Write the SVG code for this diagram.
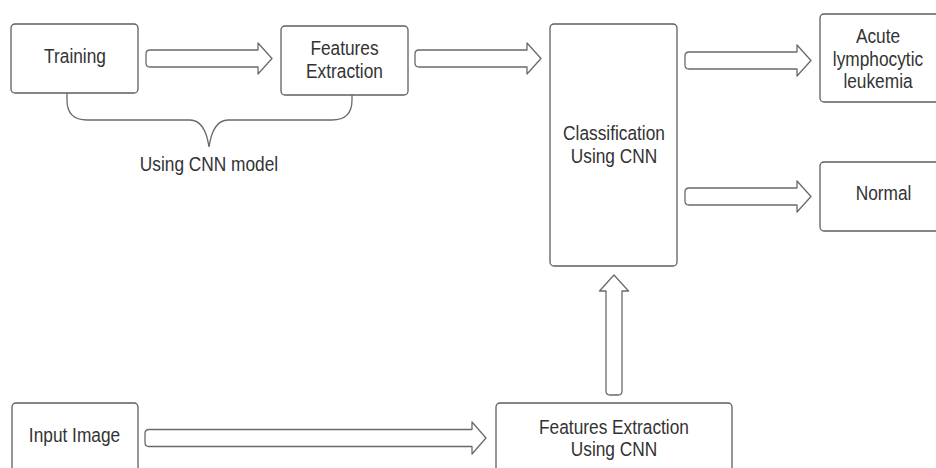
<svg xmlns="http://www.w3.org/2000/svg" width="936" height="468" viewBox="0 0 936 468">
  <style>
    .box { fill: #ffffff; stroke: #5f5f5f; stroke-width: 1.3; }
    .arrow { fill: #ffffff; stroke: #6a6a6a; stroke-width: 1.3; stroke-linejoin: round; }
    .brace { fill: none; stroke: #6a6a6a; stroke-width: 1.3; }
    .t { font-family: "Liberation Sans", Arial, Helvetica, sans-serif; font-size: 17.3px; fill: #333333; text-anchor: middle; }
  </style>
  <rect x="0" y="0" width="936" height="468" fill="#ffffff"/>

  <g id="connectors">
    <path class="arrow" d="M150,50 L258,50 L258,43 L272,58.5 L258,74 L258,67 L150,67 Q146,67 146,63 L146,54 Q146,50 150,50 Z"/>
    <path class="arrow" d="M419,50 L527,50 L527,43 L541,58.5 L527,74 L527,67 L419,67 Q415,67 415,63 L415,54 Q415,50 419,50 Z"/>
    <path class="arrow" d="M689,52 L797,52 L797,45 L811,60.5 L797,76 L797,69 L689,69 Q685,69 685,65 L685,56 Q685,52 689,52 Z"/>
    <path class="arrow" d="M689,188 L797,188 L797,181 L811,196.5 L797,212 L797,205 L689,205 Q685,205 685,201 L685,192 Q685,188 689,188 Z"/>
    <path class="arrow" d="M149,429.5 L472,429.5 L472,422 L486,438 L472,454 L472,446.5 L149,446.5 Q145,446.5 145,442.5 L145,433.5 Q145,429.5 149,429.5 Z"/>
    <path class="arrow" d="M606,291 L599.5,291 L614,275 L628.5,291 L622,291 L622,391 Q622,395 618,395 L610,395 Q606,395 606,391 Z"/>
    <path class="brace" d="M67,93 L67,100 Q67,120 87,120 L190,120 Q205,120 209,147 Q213,120 228,120 L332,120 Q352,120 352,100 L352,95"/>
  </g>

  <g id="training">
    <rect class="box" x="11" y="24" width="127" height="69" rx="4"/>
    <text class="t" transform="matrix(1 0 0 1.16 75 63)">Training</text>
  </g>

  <g id="features-extraction">
    <rect class="box" x="281" y="26" width="127" height="69" rx="4"/>
    <text class="t" transform="matrix(1 0 0 1.16 344.5 55)">Features</text>
    <text class="t" transform="matrix(1 0 0 1.16 344.5 78)">Extraction</text>
  </g>

  <g id="brace-label">
    <text class="t" transform="matrix(1 0 0 1.16 209 171)">Using CNN model</text>
  </g>

  <g id="classification">
    <rect class="box" x="550" y="24" width="127" height="242" rx="4"/>
    <text class="t" transform="matrix(1 0 0 1.16 614 140)">Classification</text>
    <text class="t" transform="matrix(1 0 0 1.16 614 163)">Using CNN</text>
  </g>

  <g id="acute">
    <rect class="box" x="820" y="14" width="130" height="88" rx="4"/>
    <text class="t" transform="matrix(1 0 0 1.16 878 43)">Acute</text>
    <text class="t" transform="matrix(1 0 0 1.16 878 65.5)">lymphocytic</text>
    <text class="t" transform="matrix(1 0 0 1.16 878 87.5)">leukemia</text>
  </g>

  <g id="normal">
    <rect class="box" x="820" y="162" width="130" height="69" rx="4"/>
    <text class="t" transform="matrix(1 0 0 1.16 883.5 200)">Normal</text>
  </g>

  <g id="input-image">
    <rect class="box" x="12" y="403" width="126" height="80" rx="4"/>
    <text class="t" transform="matrix(1 0 0 1.16 74.5 442)">Input Image</text>
  </g>

  <g id="features-extraction-cnn">
    <rect class="box" x="496" y="403" width="236" height="80" rx="4"/>
    <text class="t" transform="matrix(1 0 0 1.16 614 434)">Features Extraction</text>
    <text class="t" transform="matrix(1 0 0 1.16 614 456)">Using CNN</text>
  </g>
</svg>
